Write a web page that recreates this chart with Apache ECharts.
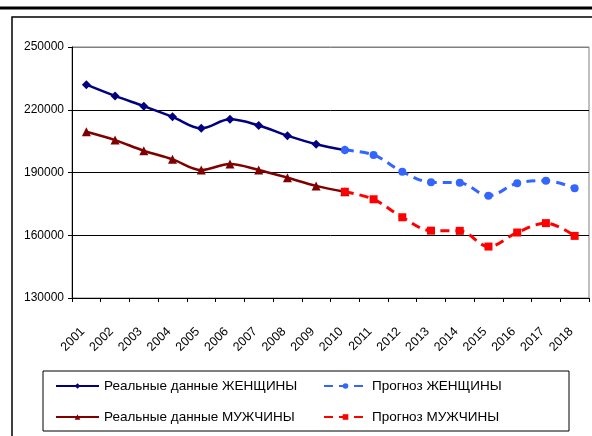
<!DOCTYPE html>
<html>
<head>
<meta charset="utf-8">
<script src="https://cdn.jsdelivr.net/npm/echarts@6/dist/echarts.min.js"></script>
<style>
  html, body { margin: 0; padding: 0; background: #fff; }
  #chart { width: 592px; height: 436px; }
</style>
</head>
<body>
<div id="chart"></div>
<script>
// годы
var years = ['2001','2002','2003','2004','2005','2006','2007','2008','2009','2010',
             '2011','2012','2013','2014','2015','2016','2017','2018'];

// реальные данные 2001-2010
var womenReal = [232000, 226600, 221700, 216600, 211100, 215400, 212500, 207600, 203500, 200700];
var menReal   = [209500, 205500, 200400, 196300, 191200, 194100, 191200, 187500, 183600, 180800];

// прогноз 2010-2018
var womenForecast = [200700, 198400, 190400, 185300, 185100, 178900, 184900, 186100, 182500];
var menForecast   = [180800, 177200, 168600, 162200, 162100, 154600, 161300, 165800, 159700];

var yTicks = [130000, 160000, 190000, 220000, 250000];

function padRight(arr) { // реальные -> длина years
  var out = arr.slice();
  while (out.length < years.length) out.push(null);
  return out;
}
function padLeft(arr) { // прогноз -> длина years
  var out = [];
  for (var i = 0; i < years.length - arr.length; i++) out.push(null);
  return out.concat(arr);
}

var font = 'Liberation Sans, Arial, sans-serif';

var legendBase = {
  orient: 'vertical',
  top: 378,
  padding: 0,
  itemWidth: 43, itemHeight: 7, itemGap: 15,
  textStyle: { fontFamily: font, fontSize: 13.5, color: '#000', lineHeight: 16 }
};

var myChart = echarts.init(document.getElementById('chart'), null, { renderer: 'canvas' });
var option = {
  animation: false,
  backgroundColor: '#fff',
  graphic: [
    { type: 'line', shape: { x1: 0, y1: 8, x2: 592, y2: 8 }, style: { stroke: '#000', lineWidth: 3 } },
    { type: 'rect', shape: { x: 12, y: 17, width: 600, height: 440 }, style: { fill: null, stroke: '#000', lineWidth: 1.5 } },
    { type: 'rect', shape: { x: 43, y: 371, width: 526, height: 60 }, style: { fill: null, stroke: '#000', lineWidth: 1 } }
  ],
  grid: {
    left: 72, right: 3, top: 47, bottom: 138,
    show: true, borderColor: '#808080', borderWidth: 1
  },
  legend: [
    Object.assign({}, legendBase, { left: 55, data: ['Реальные данные ЖЕНЩИНЫ', 'Реальные данные МУЖЧИНЫ'] }),
    Object.assign({}, legendBase, { left: 323, data: ['Прогноз ЖЕНЩИНЫ', 'Прогноз МУЖЧИНЫ'] })
  ],
  xAxis: {
    type: 'category',
    data: years,
    boundaryGap: true,
    axisLine: { lineStyle: { color: '#000', width: 1 } },
    axisTick: { show: true, length: 4, lineStyle: { color: '#000' } },
    axisLabel: { rotate: 45, margin: 28, padding: [0, 5, 0, 0], fontFamily: font, fontSize: 12.5, color: '#000', interval: 0 },
    splitLine: { show: false }
  },
  yAxis: {
    type: 'value',
    min: yTicks[0], max: yTicks[yTicks.length - 1], interval: 30000,
    axisLine: { show: true, lineStyle: { color: '#000', width: 1 } },
    axisTick: { show: true, length: 4, lineStyle: { color: '#000' } },
    axisLabel: { margin: 8, fontFamily: font, fontSize: 12, color: '#000',
      formatter: function(v) { return String(v); } },
    splitLine: { show: true, lineStyle: { color: ['#000', '#000', '#000', '#000', '#808080'], width: 1 } }
  },
  series: [{
    name: 'Реальные данные ЖЕНЩИНЫ',
    type: 'line', smooth: 0.35,
    data: padRight(womenReal),
    color: '#000080',
    symbol: 'diamond', symbolSize: 9,
    lineStyle: { width: 2.5, color: '#000080' },
    itemStyle: { color: '#000080' }
  }, {
    name: 'Реальные данные МУЖЧИНЫ',
    type: 'line', smooth: 0.35,
    data: padRight(menReal),
    color: '#800000',
    symbol: 'triangle', symbolSize: 9,
    lineStyle: { width: 2.5, color: '#800000' },
    itemStyle: { color: '#800000' }
  }, {
    name: 'Прогноз ЖЕНЩИНЫ',
    type: 'line', smooth: 0.35,
    data: padLeft(womenForecast),
    color: '#3366FF',
    symbol: 'circle', symbolSize: 8,
    lineStyle: { width: 3, color: '#3366FF', type: [9, 6] },
    itemStyle: { color: '#3366FF' }
  }, {
    name: 'Прогноз МУЖЧИНЫ',
    type: 'line', smooth: 0.35,
    data: padLeft(menForecast),
    color: '#FF0000',
    symbol: 'rect', symbolSize: 8,
    lineStyle: { width: 3, color: '#FF0000', type: [9, 6] },
    itemStyle: { color: '#FF0000' }
  }]
};
myChart.setOption(option);
</script>
</body>
</html>
